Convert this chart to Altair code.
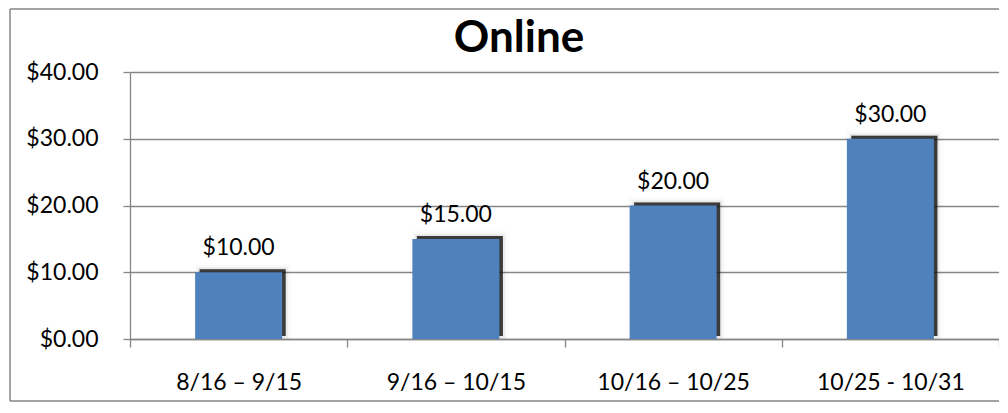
import altair as alt
import pandas as pd

categories = ["8/16 – 9/15", "9/16 – 10/15", "10/16 – 10/25", "10/25 - 10/31"]
values = [10, 15, 20, 30]
labels = ["$10.00", "$15.00", "$20.00", "$30.00"]
title_text = "Online"

df = pd.DataFrame({"cat": categories, "val": values, "lab": labels})

FONT = "Lato"
GRAY = "#868686"
W, H = 869, 267

x = alt.X("cat:N", sort=categories, title=None,
          scale=alt.Scale(paddingInner=0, paddingOuter=0),
          axis=alt.Axis(labelAngle=0, tickBand="extent", tickSize=8,
                        labelPadding=24, labelFontSize=23, labelFont=FONT,
                        labelColor="black", domainColor=GRAY, tickColor=GRAY,
                        domainWidth=1.3, tickWidth=1.3, grid=False))
y = alt.Y("val:Q", title=None,
          scale=alt.Scale(domain=[0, 40], nice=False),
          axis=alt.Axis(values=[0, 10, 20, 30, 40], format="$.2f", tickSize=7,
                        labelPadding=25, labelFontSize=23, labelFont=FONT,
                        labelColor="black", domainColor=GRAY, tickColor=GRAY,
                        domainWidth=1.3, tickWidth=1.3, gridColor=GRAY,
                        gridWidth=1.3))

one = alt.Chart(df).transform_filter("datum.cat == '8/16 – 9/15'")
allrows = alt.Chart(df)

border_left = one.mark_rule(color=GRAY, strokeWidth=1.5).encode(
    x=alt.value(-120), y=alt.value(-63), y2=alt.value(H + 62))
border_top = one.mark_rule(color=GRAY, strokeWidth=1.5).encode(
    x=alt.value(-120), x2=alt.value(W + 40), y=alt.value(-63))
border_bottom = one.mark_rule(color=GRAY, strokeWidth=1.5).encode(
    x=alt.value(-120), x2=alt.value(W + 40), y=alt.value(H + 62))

shadows = []
for sw, op in [(12, 0.07), (8, 0.12), (4, 0.25), (0, 0.7)]:
    shadows.append(allrows.mark_bar(color="#111111", opacity=op, stroke="#111111",
                                    strokeWidth=sw, strokeOpacity=op, xOffset=4,
                                    yOffset=-3, clip=True, width=86).encode(
        x=x, y=y))

bars = allrows.mark_bar(color="#4F81BD", width=87).encode(x=x, y=y)

text = allrows.mark_text(font=FONT, fontSize=23, color="black", dy=-17,
                         baseline="alphabetic").encode(x=x, y=y, text="lab:N")

title = one.mark_text(font=FONT, fontSize=44, fontWeight="bold", color="black",
                      baseline="alphabetic", align="center").encode(
    x=alt.value(389), y=alt.value(-20), text=alt.datum(title_text))

chart = alt.layer(border_left, border_top, border_bottom, *shadows, bars, text,
                  title).properties(
    width=W, height=H,
    autosize=alt.AutoSizeParams(type="none"),
    padding={"left": 122, "top": 64, "right": 0, "bottom": 64},
    background="white",
).configure_view(stroke="transparent", strokeWidth=0).configure_axisY(domain=True)

chart.save("out.html", embed_options={"renderer": "svg", "actions": False})
